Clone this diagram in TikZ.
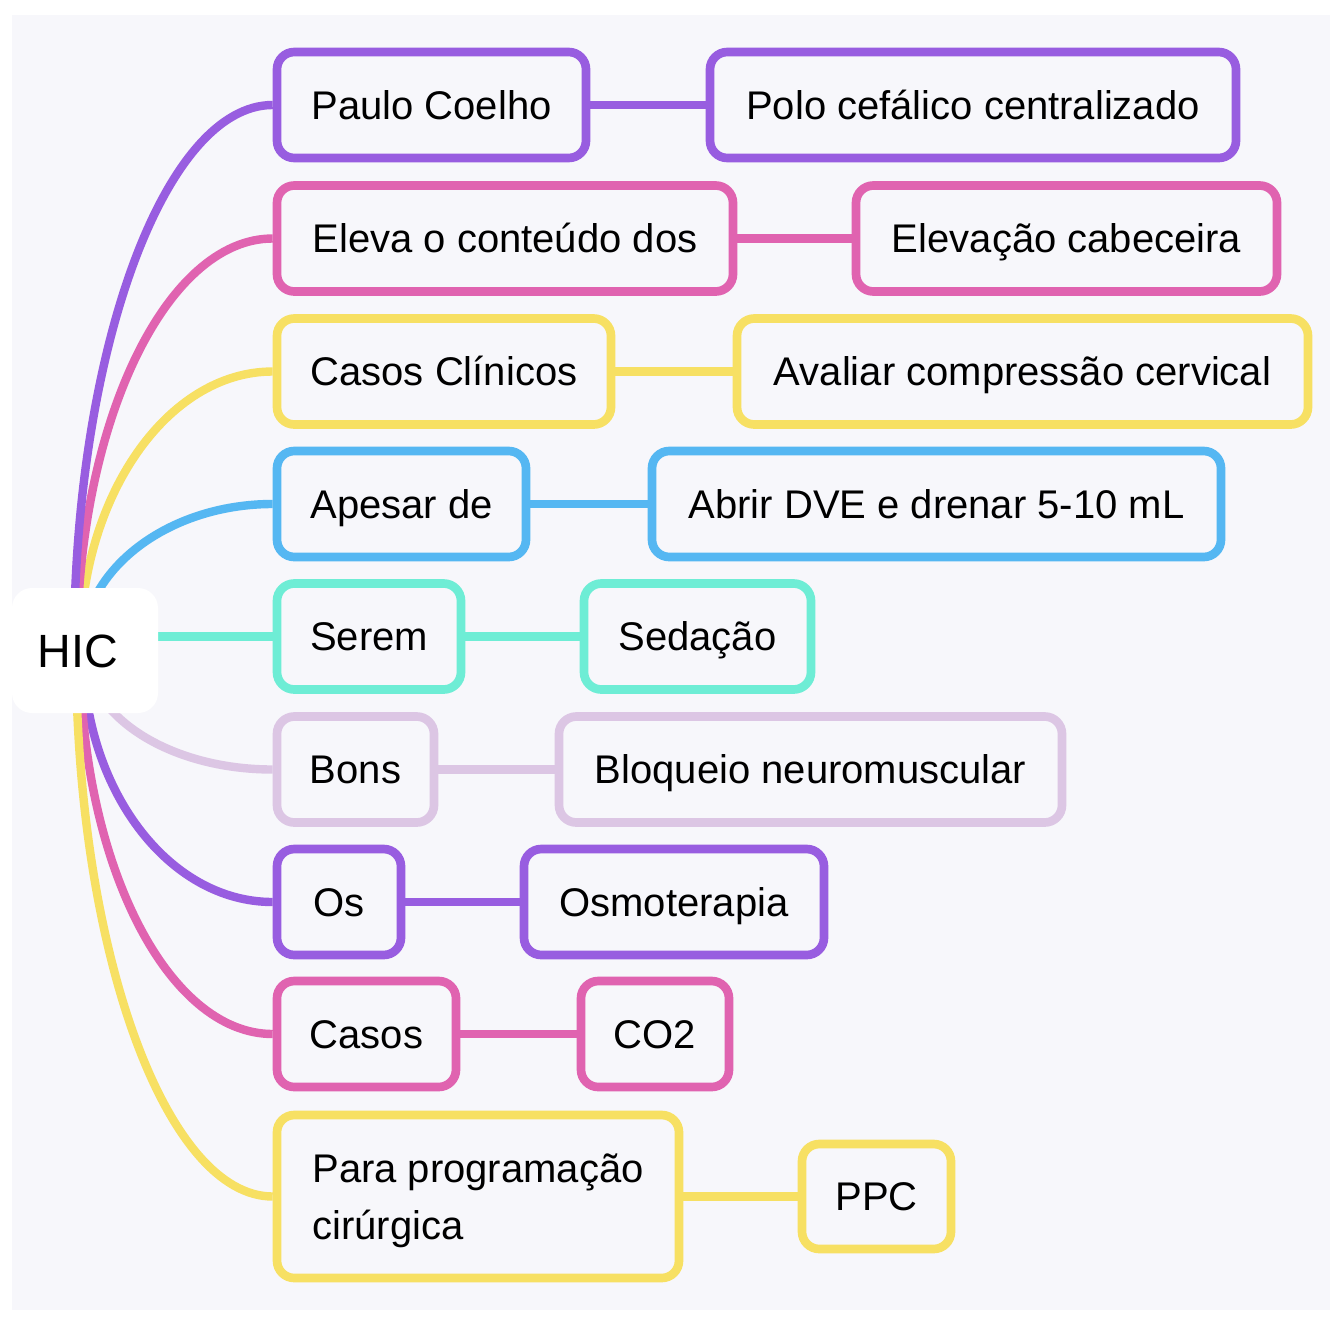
\documentclass[tikz,border=0pt]{standalone}
\usepackage{fontspec}
\setmainfont{Liberation Sans}
\definecolor{cpur}{HTML}{985DE0}
\definecolor{cpink}{HTML}{E063B0}
\definecolor{cyel}{HTML}{F7E063}
\definecolor{cblue}{HTML}{55B7F2}
\definecolor{cteal}{HTML}{6EEDD5}
\definecolor{clav}{HTML}{DCC6E4}
\definecolor{bgc}{HTML}{F7F7FB}
\pgfdeclarelayer{bgl}\pgfdeclarelayer{edges}\pgfsetlayers{bgl,edges,main}
\begin{document}
\begin{tikzpicture}[x=0.75pt,y=-0.75pt,
  bx/.style={draw=#1, line width=6.5pt, rounded corners=13pt, fill=bgc, inner sep=0pt,
    font=\fontsize{30}{42.75}\selectfont, text=black, minimum height=79.5pt},
  sl/.style={text height=21.5pt, text depth=0pt},
  ln/.style={draw=#1, line width=6.3pt},
]
\useasboundingbox (0,0) rectangle (1334,1317);
\begin{pgfonlayer}{bgl}
\fill[white] (0,0) rectangle (1334,1317);
\fill[bgc] (12,15) rectangle (1330,1310);
\end{pgfonlayer}

\node[fill=white, rounded corners=15pt, inner sep=0pt, minimum width=109.5pt, minimum height=93.75pt,
  font=\fontsize{35}{40}\selectfont, text height=25pt, text depth=0pt] (hic) at (85,650.5) {HIC\hspace*{11pt}};

\node[bx=cpur, sl, minimum width=231.75pt] (a1) at (431.5,105) {Paulo Coelho};
\node[bx=cpur, sl, minimum width=394.5pt] (b1) at (973,105) {Polo cefálico centralizado};
\node[bx=cpink, sl, minimum width=342pt] (a2) at (505,238.5) {Eleva o conteúdo dos};
\node[bx=cpink, sl, minimum width=315.75pt] (b2) at (1066.5,238.5) {Elevação cabeceira};
\node[bx=cyel, sl, minimum width=250.5pt] (a3) at (444,371.5) {Casos Clínicos};
\node[bx=cyel, sl, minimum width=428.25pt] (b3) at (1022.5,371.5) {Avaliar compressão cervical};
\node[bx=cblue, sl, minimum width=186.75pt] (a4) at (401.5,504) {Apesar de};
\node[bx=cblue, sl, minimum width=426.75pt] (b4) at (936.5,504) {Abrir DVE e drenar 5-10 mL};
\node[bx=cteal, sl, minimum width=138pt] (a5) at (369,636.5) {Serem};
\node[bx=cteal, sl, minimum width=170.25pt] (b5) at (697.5,636.5) {Sedação};
\node[bx=clav, sl, minimum width=117.75pt] (a6) at (355.5,769.5) {Bons};
\node[bx=clav, sl, minimum width=377.25pt] (b6) at (810.5,769.5) {Bloqueio neuromuscular};
\node[bx=cpur, sl, minimum width=93pt] (a7) at (339,902) {Os};
\node[bx=cpur, sl, minimum width=225pt] (b7) at (674,902) {Osmoterapia};
\node[bx=cpink, sl, minimum width=134.25pt] (a8) at (366.5,1034) {Casos};
\node[bx=cpink, sl, minimum width=111pt] (b8) at (655,1034) {CO2};
\node[bx=cyel, align=left, text depth=0pt, minimum width=301.5pt, minimum height=122.25pt] (a9) at (478,1196.5) {Para programação\\cirúrgica};
\node[bx=cyel, sl, minimum width=111.75pt, minimum height=78.75pt] (b9) at (876.5,1196.5) {PPC};

\coordinate (s1) at (74,650);
\coordinate (s2) at (77,650);
\coordinate (s3) at (80,650);
\coordinate (s4) at (82,650);
\coordinate (s6) at (86,650);
\coordinate (s7) at (83,650);
\coordinate (s8) at (80,650);
\coordinate (s9) at (76,650);

\begin{pgfonlayer}{edges}
\draw[ln=cpur] (a1) -- (b1);
\draw[ln=cpink] (a2) -- (b2);
\draw[ln=cyel] (a3) -- (b3);
\draw[ln=cblue] (a4) -- (b4);
\draw[ln=cteal] (a5) -- (b5);
\draw[ln=clav] (a6) -- (b6);
\draw[ln=cpur] (a7) -- (b7);
\draw[ln=cpink] (a8) -- (b8);
\draw[ln=cyel] (a9) -- (b9);

\draw[ln=cblue] (s4) .. controls (82,569.7) and (168,504) .. (a4.west);
\draw[ln=cyel] (s3) .. controls (80,496.8) and (167,371.5) .. (a3.west);
\draw[ln=cpink] (s2) .. controls (77,423.7) and (166,238.5) .. (a2.west);
\draw[ln=cpur] (s1) .. controls (74,350.25) and (165,105) .. (a1.west);
\draw[ln=cteal] (hic.east |- a5) -- (a5.west);
\draw[ln=clav] (s6) .. controls (86,715.7) and (169,769.5) .. (a6.west);
\draw[ln=cpur] (s7) .. controls (83,788.6) and (168,902) .. (a7.west);
\draw[ln=cpink] (s8) .. controls (80,861.2) and (167,1034) .. (a8.west);
\draw[ln=cyel] (s9) .. controls (76,950.6) and (166,1196.5) .. (a9.west);
\end{pgfonlayer}
\end{tikzpicture}
\end{document}
